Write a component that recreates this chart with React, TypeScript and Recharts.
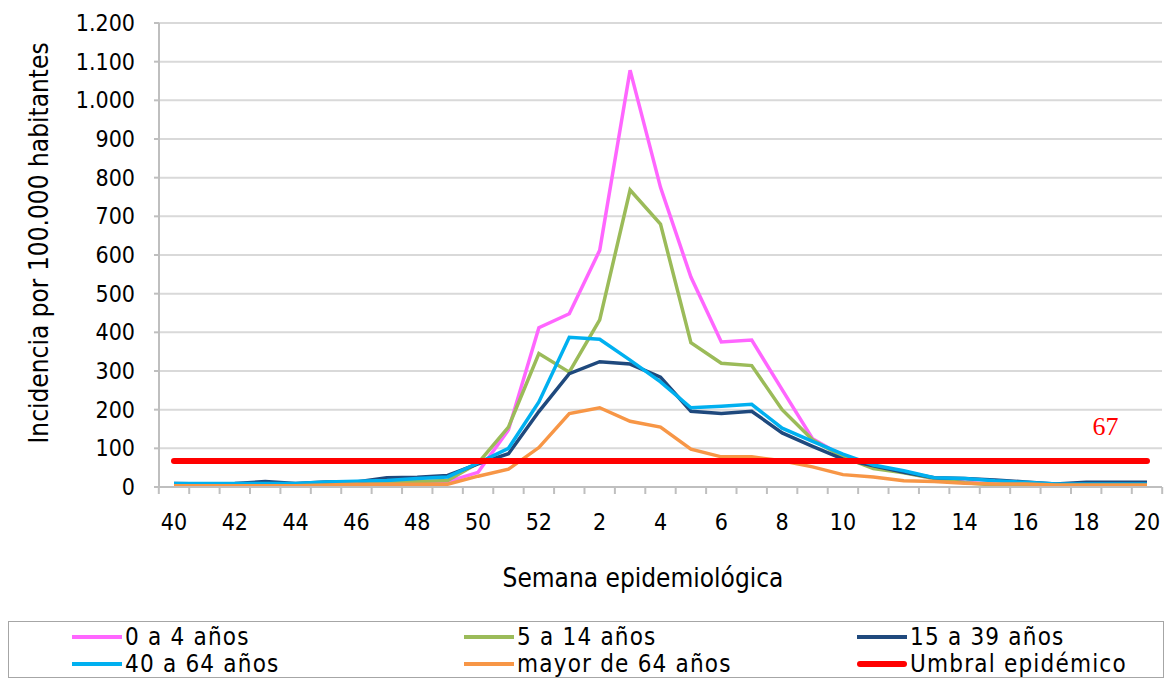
import { CartesianGrid, LabelList, Line, LineChart, XAxis, YAxis } from "recharts"

const FONT = "'DejaVu Sans Condensed', 'DejaVu Sans', sans-serif"

// semanas epidemiológicas 40..52 y 1..20
const weeks = [
  "40", "41", "42", "43", "44", "45", "46", "47", "48", "49", "50", "51", "52",
  "1", "2", "3", "4", "5", "6", "7", "8", "9", "10",
  "11", "12", "13", "14", "15", "16", "17", "18", "19", "20",
]

const age0to4 = [
  7, 7, 7, 7, 7, 2, 2, 2, 9, 14, 38, 148, 412,
  448, 612, 1078, 775, 543, 375, 380, 252, 125, 80,
  55, 38, 22, 12, 7, 4, 3, 3, 3, 3,
]
const age5to14 = [
  8, 8, 8, 8, 8, 10, 10, 12, 14, 17, 62, 155, 345,
  297, 432, 768, 680, 373, 320, 314, 200, 122, 78,
  48, 37, 22, 11, 5, 2, 3, 4, 4, 4,
]
const age15to39 = [
  9, 8, 9, 14, 9, 13, 13, 24, 25, 30, 60, 86, 195,
  293, 324, 318, 284, 196, 190, 196, 140, 105, 72,
  55, 38, 24, 22, 18, 13, 8, 12, 12, 12,
]
const age40to64 = [
  9, 9, 9, 9, 9, 13, 15, 17, 22, 26, 62, 100, 220,
  387, 382, 328, 272, 205, 209, 214, 152, 118, 85,
  57, 42, 24, 22, 16, 12, 8, 8, 8, 8,
]
const age65plus = [
  3, 3, 3, 3, 3, 5, 7, 7, 7, 7, 28, 46, 102,
  190, 205, 170, 155, 98, 78, 78, 68, 52, 32,
  26, 16, 14, 10, 8, 8, 5, 5, 5, 5,
]
const threshold = 67

const yTicks = [0, 100, 200, 300, 400, 500, 600, 700, 800, 900, 1000, 1100, 1200]

const series = [
  { key: "a0", name: "0 a 4 años", color: "#ff66ff", values: age0to4 },
  { key: "a5", name: "5 a 14 años", color: "#9bbb59", values: age5to14 },
  { key: "a15", name: "15 a 39 años", color: "#1f497d", values: age15to39 },
  { key: "a40", name: "40 a 64 años", color: "#00b0f0", values: age40to64 },
  { key: "a65", name: "mayor de 64 años", color: "#f79646", values: age65plus },
]

const data = weeks.map((w, i) => {
  const row: Record<string, string | number> = { week: w, umbral: threshold }
  series.forEach((s) => {
    row[s.key] = s.values[i]
  })
  return row
})

const fmt = (v: number) => String(v).replace(/\B(?=(\d{3})+(?!\d))/g, ".")

const HALF_BAND = 15.2

function WeekTick(props: any) {
  const { x, y, payload, index } = props
  const last = index === weeks.length - 1
  return (
    <g>
      <line x1={x - HALF_BAND} x2={x - HALF_BAND} y1={y} y2={y + 7} stroke="#bfbfbf" strokeWidth={2} />
      {last && <line x1={x + HALF_BAND} x2={x + HALF_BAND} y1={y} y2={y + 7} stroke="#bfbfbf" strokeWidth={2} />}
      {index % 2 === 0 && (
        <text x={x} y={y + 43} textAnchor="middle" fontSize={23} fill="#000" style={{ fontFamily: FONT, fontStretch: "condensed" }}>
          {payload.value}
        </text>
      )}
    </g>
  )
}

function ThresholdLabel(props: any) {
  const { x, y, value, index } = props
  if (index !== 31) return null
  return (
    <text x={x - 11} y={y - 26} textAnchor="middle" fontSize={26} fill="#ff0000" fontFamily="'Liberation Serif', serif">
      {value}
    </text>
  )
}

const legendRows = [
  [series[0], series[1], series[2]],
  [series[3], series[4], { key: "umbral", name: "Umbral epidémico", color: "#ff0000" }],
]
const legendCols = [72, 464, 857]

export default function App() {
  return (
    <div style={{ position: "absolute", left: 0, top: 0, width: 1166, height: 678, background: "#fff", fontFamily: FONT, fontStretch: "condensed" }}>
      <LineChart width={1166} height={600} data={data} margin={{ top: 23, right: 4, bottom: 53, left: 0 }}>
        <CartesianGrid vertical={false} stroke="#d9d9d9" strokeWidth={2} />
        <XAxis
          dataKey="week"
          scale="point"
          padding={{ left: 15, right: 15 }}
          interval={0}
          height={60}
          tickLine={false}
          tickSize={0}
          tickMargin={0}
          axisLine={{ stroke: "#bfbfbf", strokeWidth: 2 }}
          tick={<WeekTick />}
          label={{
            content: () => (
              <text x={643} y={587} textAnchor="middle" fontSize={26} fill="#000" style={{ fontFamily: FONT, fontStretch: "condensed" }}>
                Semana epidemiológica
              </text>
            ),
          }}
        />
        <YAxis
          width={159}
          domain={[0, 1200]}
          ticks={yTicks}
          interval={0}
          tickFormatter={fmt}
          tickSize={5}
          tickMargin={19}
          tickLine={{ stroke: "#bfbfbf", strokeWidth: 2 }}
          axisLine={{ stroke: "#bfbfbf", strokeWidth: 2 }}
          tick={{ fontSize: 23, fill: "#000", style: { fontFamily: FONT, fontStretch: "condensed" } }}
          label={{
            content: () => (
              <text
                x={48}
                y={243}
                transform="rotate(-90 48 243)"
                textAnchor="middle"
                fontSize={26}
                fill="#000"
                style={{ fontFamily: FONT, fontStretch: "condensed" }}
              >
                Incidencia  por 100.000 habitantes
              </text>
            ),
          }}
        />
        {series.map((s) => (
          <Line
            key={s.key}
            dataKey={s.key}
            name={s.name}
            stroke={s.color}
            strokeWidth={3.5}
            dot={false}
            isAnimationActive={false}
          />
        ))}
        <Line
          dataKey="umbral"
          name="Umbral epidémico"
          stroke="#ff0000"
          strokeWidth={6}
          strokeLinecap="round"
          dot={false}
          isAnimationActive={false}
        >
          <LabelList dataKey="umbral" content={<ThresholdLabel />} />
        </Line>
      </LineChart>
      <div
        style={{
          position: "absolute",
          left: 8,
          top: 621,
          width: 1154,
          height: 55,
          border: "1.5px solid #a6a6a6",
        }}
      >
        {legendRows.map((row, r) =>
          row.map((item, c) => (
            <div
              key={item.key}
              style={{
                position: "absolute",
                left: legendCols[c] - 9,
                top: r === 0 ? 3 : 30,
                height: 24,
                display: "flex",
                alignItems: "center",
                fontSize: 24,
                lineHeight: "24px",
                letterSpacing: 1.2,
                color: "#000",
                whiteSpace: "nowrap",
              }}
            >
              <span
                style={{
                  display: "inline-block",
                  width: 50,
                  height: item.key === "umbral" ? 6 : 4,
                  borderRadius: item.key === "umbral" ? 3 : 0,
                  background: item.color,
                  marginRight: 3,
                }}
              />
              {item.name}
            </div>
          ))
        )}
      </div>
    </div>
  )
}
